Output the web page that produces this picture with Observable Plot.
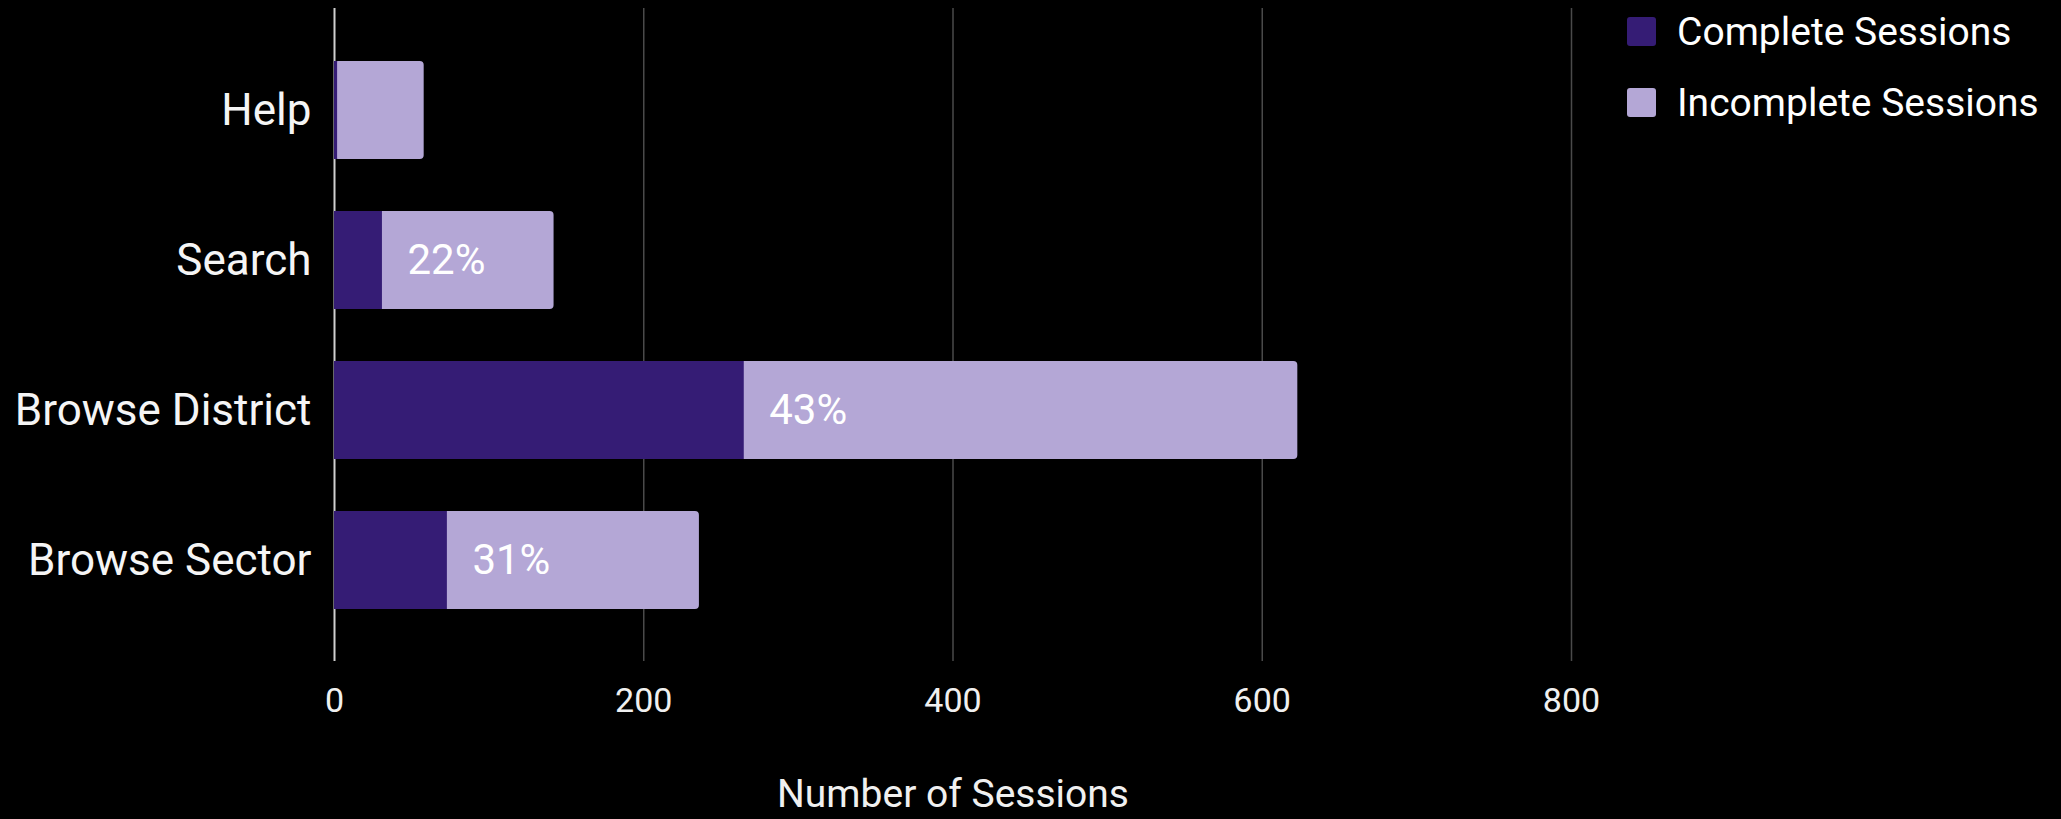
<!DOCTYPE html>
<html>
<head>
<meta charset="utf-8">
<script src="https://cdn.jsdelivr.net/npm/d3@7"></script>
<script src="https://cdn.jsdelivr.net/npm/@observablehq/plot@0.6"></script>
<style>
  html, body { margin: 0; padding: 0; background: #000; }
  #wrap { position: relative; width: 2061px; height: 819px; background: #000; font-family: Roboto, sans-serif; }
  #legend { position: absolute; left: 1627px; top: 17px; color: #fff; font-size: 39px; }
  .item { display: flex; align-items: center; height: 29px; margin-bottom: 42px; white-space: nowrap; }
  .sw { width: 29px; height: 29px; border-radius: 3px; margin-right: 21px; flex: none; }
</style>
</head>
<body>
<div id="wrap"><div id="legend"></div></div>
<script>
const categories = ["Help", "Search", "Browse District", "Browse Sector"];
const complete = [2, 31, 265, 73];
const incomplete = [56, 111, 358, 163];
const pctLabels = ["", "22%", "43%", "31%"];
const xTicks = [0, 200, 400, 600, 800];
const seriesNames = ["Complete Sessions", "Incomplete Sessions"];
const seriesColors = ["#351c75", "#b4a7d6"];

const rows = categories.map((c, i) => ({
  category: c,
  complete: complete[i],
  total: complete[i] + incomplete[i],
  label: pctLabels[i]
}));

const chart = Plot.plot({
  width: 2061,
  height: 819,
  marginLeft: 334,
  marginRight: 490,
  marginTop: 8,
  marginBottom: 158,
  style: { background: "#000", color: "#fff", fontFamily: "Roboto, sans-serif" },
  x: { domain: [0, 800] },
  y: { domain: categories, padding: 0.35 },
  marks: [
    Plot.ruleX(xTicks.slice(1), { stroke: "#4a4a4a", strokeWidth: 1.5 }),
    Plot.ruleX([0], { stroke: "#cfcfcf", strokeWidth: 2 }),
    Plot.axisX({ ticks: xTicks, tickSize: 0, tickPadding: 26, fontSize: 34, fill: "#f0f0f0", label: null }),
    Plot.axisX({ ticks: [], tickSize: 0, fontSize: 39, fill: "#f0f0f0",
      label: "Number of Sessions", labelAnchor: "center", labelArrow: "none", labelOffset: 145 }),
    Plot.axisY({ tickSize: 0, tickPadding: 23, fontSize: 44, fill: "#f5f5f5", label: null }),
    Plot.barX(rows, { x1: 0, x2: "total", y: "category", fill: seriesColors[1], rx: 4 }),
    Plot.barX(rows, { x1: 0, x2: "complete", y: "category", fill: seriesColors[0] }),
    Plot.text(rows, { x: "complete", y: "category", text: "label", dx: 25, textAnchor: "start", fill: "#fff", fontSize: 42 })
  ]
});
document.getElementById("wrap").prepend(chart);

const legend = document.getElementById("legend");
seriesNames.forEach((n, i) => {
  const it = document.createElement("div");
  it.className = "item";
  const sw = document.createElement("span");
  sw.className = "sw";
  sw.style.background = seriesColors[i];
  const t = document.createElement("span");
  t.textContent = n;
  it.appendChild(sw);
  it.appendChild(t);
  legend.appendChild(it);
});
</script>
</body>
</html>
